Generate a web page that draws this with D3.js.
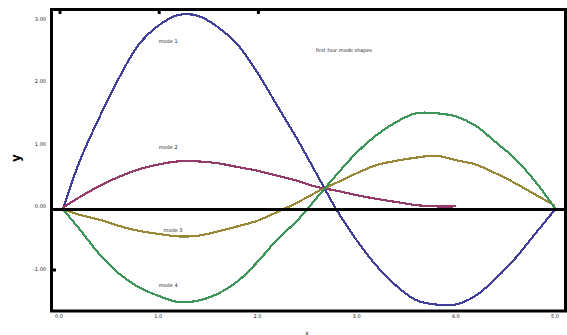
<!DOCTYPE html>
<html>
<head>
<meta charset="utf-8">
<script src="https://cdn.jsdelivr.net/npm/d3@7"></script>
<style>
  html, body { margin: 0; padding: 0; background: #fff; }
  svg { display: block; }
  text { font-family: "DejaVu Sans", sans-serif; fill: #222; }
</style>
</head>
<body>
<svg id="chart" width="567" height="335"></svg>
<script>
// ---- data ----
const xValues = [0.04, 0.2, 0.4, 0.6, 0.8, 1.0, 1.2, 1.4, 1.6, 1.8, 2.0, 2.2, 2.4, 2.6, 2.8, 3.0, 3.2, 3.4, 3.6, 3.8, 4.0, 4.2, 4.4, 4.6, 4.8, 5.0];
const blueValues   = [0, 0.74, 1.45, 2.09, 2.63, 2.94, 3.11, 3.10, 2.92, 2.64, 2.19, 1.66, 1.13, 0.56, -0.01, -0.49, -0.90, -1.22, -1.45, -1.52, -1.52, -1.38, -1.11, -0.78, -0.39, 0];
const maroonValues = [0.03, 0.19, 0.37, 0.52, 0.64, 0.72, 0.77, 0.77, 0.74, 0.68, 0.62, 0.54, 0.46, 0.36, 0.30, 0.23, 0.17, 0.12, 0.07, 0.05, 0.05];
const oliveValues  = [0, -0.08, -0.16, -0.26, -0.34, -0.39, -0.43, -0.42, -0.35, -0.27, -0.18, -0.04, 0.11, 0.28, 0.43, 0.58, 0.71, 0.78, 0.83, 0.86, 0.79, 0.72, 0.58, 0.42, 0.24, 0.06];
const greenValues  = [0, -0.30, -0.70, -1.02, -1.24, -1.38, -1.48, -1.46, -1.35, -1.15, -0.84, -0.48, -0.18, 0.19, 0.56, 0.91, 1.19, 1.40, 1.54, 1.54, 1.49, 1.34, 1.08, 0.81, 0.45, 0.02];
const xTickValues = [0, 1, 2, 3, 4, 5];
const xTickLabels = ["0.0", "1.0", "2.0", "3.0", "4.0", "5.0"];
const yTickValues = [3, 2, 1, 0, -1];
const yTickLabels = ["3.00", "2.00", "1.00", "0.00", "-1.00"];
const seriesNames = ["mode 1", "mode 2", "mode 3", "mode 4"];
const curveLabelX = [1.1, 1.1, 1.15, 1.1];
const curveLabelY = [2.7, 1.0, -0.33, -1.2];
const titleText = "first four mode shapes";
const xTitle = "x";
const yTitle = "y";

// ---- layout ----
const svg = d3.select("#chart");
const frame = { left: 51.5, top: 9.5, right: 565.5, bottom: 311 };
const x = d3.scaleLinear().domain([0, 5]).range([59, 555]);
const y = d3.scaleLinear().domain([-1, 3]).range([272, 22]);

const series = [
  { name: seriesNames[0], values: blueValues,   color: "#413f99" },
  { name: seriesNames[1], values: maroonValues, color: "#943a6b" },
  { name: seriesNames[2], values: oliveValues,  color: "#988838" },
  { name: seriesNames[3], values: greenValues,  color: "#3b9657" }
];

const line = d3.line()
  .x(d => x(d[0]))
  .y(d => y(d[1]))
  .curve(d3.curveCatmullRom.alpha(0.5));

// curves
series.forEach(s => {
  const pts = s.values.map((v, i) => [xValues[i], v]);
  svg.append("path")
    .datum(pts)
    .attr("d", line)
    .attr("fill", "none")
    .attr("stroke", s.color)
    .attr("stroke-width", 2.2)
    .attr("shape-rendering", "crispEdges");
});

// zero line
svg.append("line")
  .attr("x1", frame.left - 1.5).attr("x2", frame.right + 1.5)
  .attr("y1", y(0)).attr("y2", y(0))
  .attr("stroke", "#000").attr("stroke-width", 3);

// frame
svg.append("rect")
  .attr("x", frame.left).attr("y", frame.top)
  .attr("width", frame.right - frame.left).attr("height", frame.bottom - frame.top)
  .attr("fill", "none").attr("stroke", "#000").attr("stroke-width", 3);

// top tick marks (visible ones)
svg.selectAll(".ttick").data(xTickValues.slice(0, 3)).enter().append("rect")
  .attr("x", d => x(d) - 0.5).attr("y", 11).attr("width", 3).attr("height", 3)
  .attr("fill", "#000");

// left tick at -1
svg.append("rect")
  .attr("x", 53).attr("y", y(-1) - 3.5).attr("width", 3).attr("height", 3)
  .attr("fill", "#000");

// y tick labels
svg.selectAll(".ylab").data(yTickValues).enter().append("text")
  .attr("x", 46).attr("y", d => y(d) - 3.5)
  .attr("text-anchor", "end").attr("dominant-baseline", "central")
  .attr("font-size", 5)
  .text((d, i) => yTickLabels[i]);

// x tick labels
svg.selectAll(".xlab").data(xTickValues).enter().append("text")
  .attr("x", d => x(d)).attr("y", 315.5)
  .attr("text-anchor", "middle").attr("dominant-baseline", "central")
  .attr("font-size", 5)
  .text((d, i) => xTickLabels[i]);

// axis titles
svg.append("text")
  .attr("x", 307).attr("y", 332.5)
  .attr("text-anchor", "middle").attr("dominant-baseline", "central")
  .attr("font-size", 6)
  .text(xTitle);
svg.append("text")
  .attr("transform", "translate(16,158) rotate(-90)")
  .attr("text-anchor", "middle").attr("dominant-baseline", "central")
  .attr("font-size", 12).attr("font-weight", "bold").style("fill", "#000")
  .text(yTitle);

// curve labels
series.forEach((s, i) => {
  svg.append("text")
    .attr("x", x(curveLabelX[i])).attr("y", y(curveLabelY[i]))
    .attr("text-anchor", "middle").attr("dominant-baseline", "central")
    .attr("font-size", 5)
    .text(s.name);
});

// title-like text
svg.append("text")
  .attr("x", 344).attr("y", 50)
  .attr("text-anchor", "middle").attr("dominant-baseline", "central")
  .attr("font-size", 5)
  .text(titleText);
</script>
</body>
</html>
